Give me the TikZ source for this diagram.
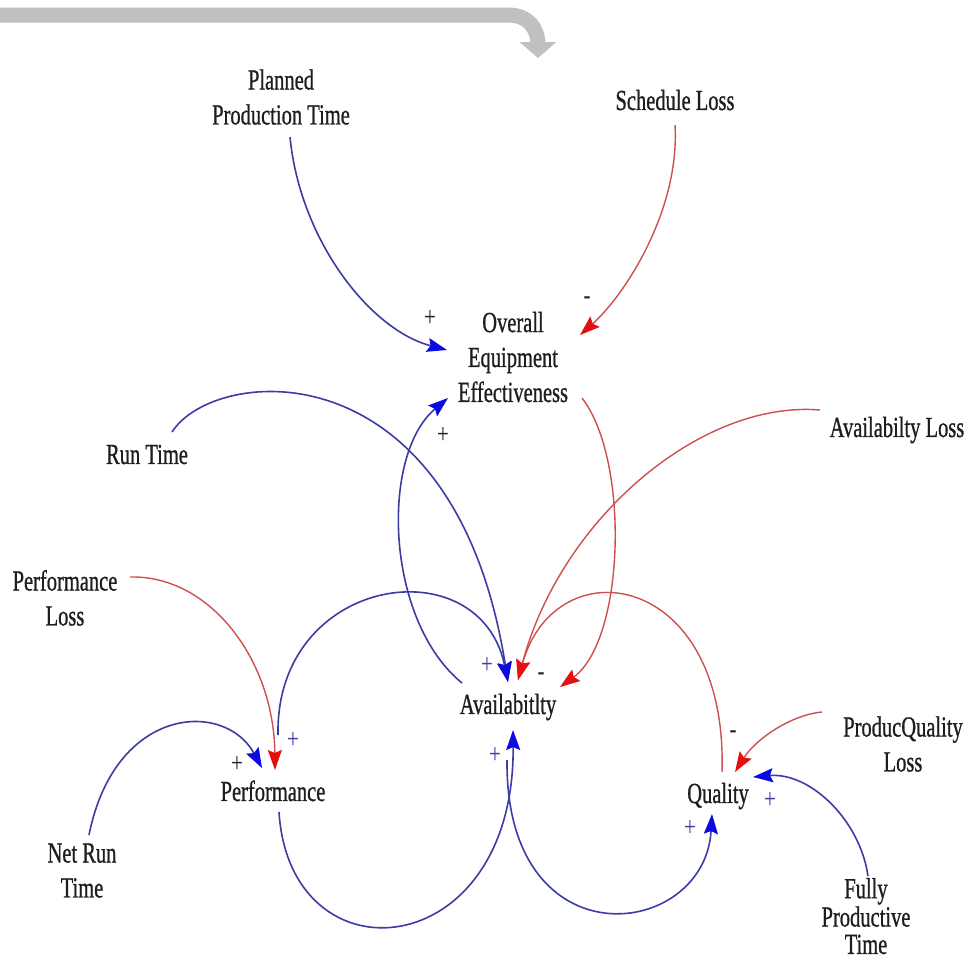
\documentclass[tikz,border=0pt]{standalone}
\usepackage{fontspec}
\setmainfont{Liberation Serif}
\newfontfamily\lblfont{Liberation Serif}[FakeBold=1.0]
\usetikzlibrary{arrows.meta}
\definecolor{lnblue}{RGB}{60,60,165}
\definecolor{ahblue}{RGB}{10,10,225}
\definecolor{lnred}{RGB}{205,80,80}
\definecolor{ahred}{RGB}{230,15,15}
\definecolor{gry}{RGB}{192,192,192}
\definecolor{txt}{RGB}{30,30,30}
\newcommand{\txtbox}[2][24.6]{\scalebox{1}[1.42]{\lblfont\fontsize{20.5}{#1}\selectfont\begin{tabular}{@{}c@{}}#2\end{tabular}}}
\newcommand{\sgn}[1]{\scalebox{1}[1.35]{\fontsize{21}{21}\selectfont #1}}
\tikzset{
  lab/.style={inner sep=0pt, text=txt},
  sg/.style={inner sep=0pt},
  bl/.style={draw=lnblue, line width=1.6pt, -{Stealth[length=20pt,width=14pt,inset=3pt,color=ahblue]}},
  rd/.style={draw=lnred, line width=1.4pt, -{Stealth[length=20pt,width=14pt,inset=3pt,color=ahred]}},
}
\begin{document}
\begin{tikzpicture}[x=1pt,y=-1pt]
\useasboundingbox (0,0) rectangle (977,964);
\fill[white] (0,0) rectangle (977,964);
% grey arrow
\coordinate (g0) at (-10,15);
\coordinate (g1) at (538,58);
\draw[gry, line width=15pt, -{Triangle[length=16pt,width=36pt]}]
  (g0) -- (508,15) .. controls (528,15) and (538,28) .. (538,45) -- (g1);
% nodes
\node[lab] (ppt)  at (281,100) {\txtbox{Planned\\Production Time}};
\node[lab] (sl)   at (675,103) {\txtbox{Schedule Loss}};
\node[lab] (oee)  at (513,360) {\txtbox{Overall\\Equipment\\Effectiveness}};
\node[lab] (rt)   at (147,457) {\txtbox{Run Time}};
\node[lab] (al)   at (897,430) {\txtbox{Availabilty Loss}};
\node[lab] (pl)   at (65,601)  {\txtbox{Performance\\Loss}};
\node[lab] (av)   at (508,707) {\txtbox{Availabitlty}};
\node[lab] (pql)  at (903,747) {\txtbox{ProducQuality\\Loss}};
\node[lab] (perf) at (273,794) {\txtbox{Performance}};
\node[lab] (qual) at (718,796) {\txtbox{Quality}};
\node[lab] (nrt)  at (82,873)  {\txtbox{Net Run\\Time}};
\node[lab] (fpt)  at (866,920) {\txtbox[19]{Fully\\Productive\\Time}};
% connectors
\draw[bl] ([shift={(9,37)}]ppt.center) .. controls (300,240) and (370,330) .. ([shift={(-66,-10)}]oee.center);
\draw[rd] ([shift={(0,22)}]sl.center) .. controls (680,210) and (625,295) .. ([shift={(67,-25)}]oee.center);
\draw[bl] ([shift={(-46,-24)}]av.center) .. controls (385,620) and (380,455) .. ([shift={(-65,38)}]oee.center);
\draw[bl] ([shift={(25,-25)}]rt.center) .. controls (215,365) and (455,345) .. ([shift={(0,-25)}]av.center);
\draw[bl] ([shift={(5,-59)}]perf.center) .. controls (275,575) and (480,545) .. ([shift={(0,-25)}]av.center);
\draw[bl] ([shift={(6,18)}]perf.center) .. controls (290,985) and (515,965) .. ([shift={(5,23)}]av.center);
\draw[bl] ([shift={(-1,53)}]av.center) .. controls (505,965) and (705,940) .. ([shift={(-6,18)}]qual.center);
\draw[bl] ([shift={(7,-38)}]nrt.center) .. controls (115,705) and (225,700) .. ([shift={(-11,-26)}]perf.center);
\draw[rd] ([shift={(65,-24)}]pl.center) .. controls (210,575) and (274,660) .. ([shift={(2,-24)}]perf.center);
\draw[rd] ([shift={(69,38)}]oee.center) .. controls (630,460) and (625,640) .. ([shift={(52,-20)}]av.center);
\draw[rd] ([shift={(-77,-20)}]al.center) .. controls (700,400) and (560,520) .. ([shift={(10,-27)}]av.center);
\draw[rd] ([shift={(4,-24)}]qual.center) .. controls (728,570) and (555,545) .. ([shift={(10,-27)}]av.center);
\draw[rd] ([shift={(-81,-35)}]pql.center) .. controls (790,715) and (755,740) .. ([shift={(17,-24)}]qual.center);
\draw[bl] ([shift={(2,-44)}]fpt.center) .. controls (860,820) and (810,772) .. ([shift={(35,-19)}]qual.center);
% polarity signs
\node[sg, text=txt]    (s1)  at (430,318) {\sgn{+}};
\node[sg, text=txt]    (s2)  at (587,301) {\sgn{-}};
\node[sg, text=txt]    (s3)  at (443,435) {\sgn{+}};
\node[sg, text=lnblue] (s4)  at (487,665) {\sgn{+}};
\node[sg, text=txt]    (s5)  at (541,677) {\sgn{-}};
\node[sg, text=lnblue] (s6)  at (495,755) {\sgn{+}};
\node[sg, text=lnblue] (s7)  at (293,740) {\sgn{+}};
\node[sg, text=txt]    (s8)  at (237,764) {\sgn{+}};
\node[sg, text=txt]    (s9)  at (733,735) {\sgn{-}};
\node[sg, text=lnblue] (s10) at (770,800) {\sgn{+}};
\node[sg, text=lnblue] (s11) at (690,828) {\sgn{+}};
\end{tikzpicture}
\end{document}
